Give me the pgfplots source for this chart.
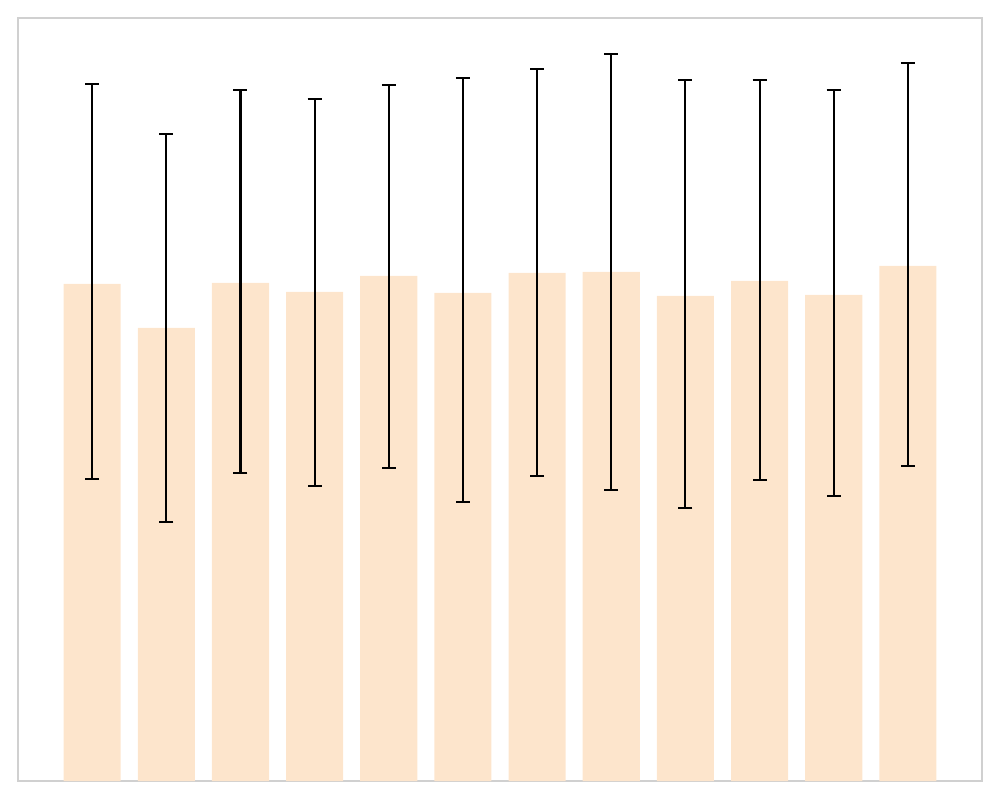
\documentclass[border=0pt]{standalone}
\usepackage{pgfplots}
\pgfplotsset{compat=1.18}
\definecolor{barc}{RGB}{253,229,204}
\definecolor{framec}{RGB}{208,208,208}
\begin{document}
\begin{tikzpicture}
\begin{axis}[
  scale only axis,
  width=9.64cm, height=7.63cm,
  xmin=-1, xmax=12, ymin=0, ymax=763,
  xtick=\empty, ytick=\empty,
  axis line style={framec, line width=0.6pt},
  ybar, bar width=0.77,
]
\addplot[fill=barc, draw=none,
  error bars/.cd, y dir=both, y explicit,
  error bar style={black, line width=0.6pt},
  error mark options={black, line width=0.6pt, mark size=0.7mm, rotate=90}]
  table[x=x, y=y, y error plus=ep, y error minus=em] {
x y ep em
0 497 200 195
1 453 194 194
2 498 193 190
3 489 193 194
4 505 191 192
5 488 215 209
6 508 204 203
7 509 218 218
8 485 216 212
9 500 201 199
10 486 205 201
11 515 203 200
};
\end{axis}
\path (current axis.south west) ++(-0.18cm,-0.19cm) coordinate (a);
\path (current axis.north east) ++(0.18cm,0.18cm) coordinate (b);
\path (a) rectangle (b);
\end{tikzpicture}
\end{document}
